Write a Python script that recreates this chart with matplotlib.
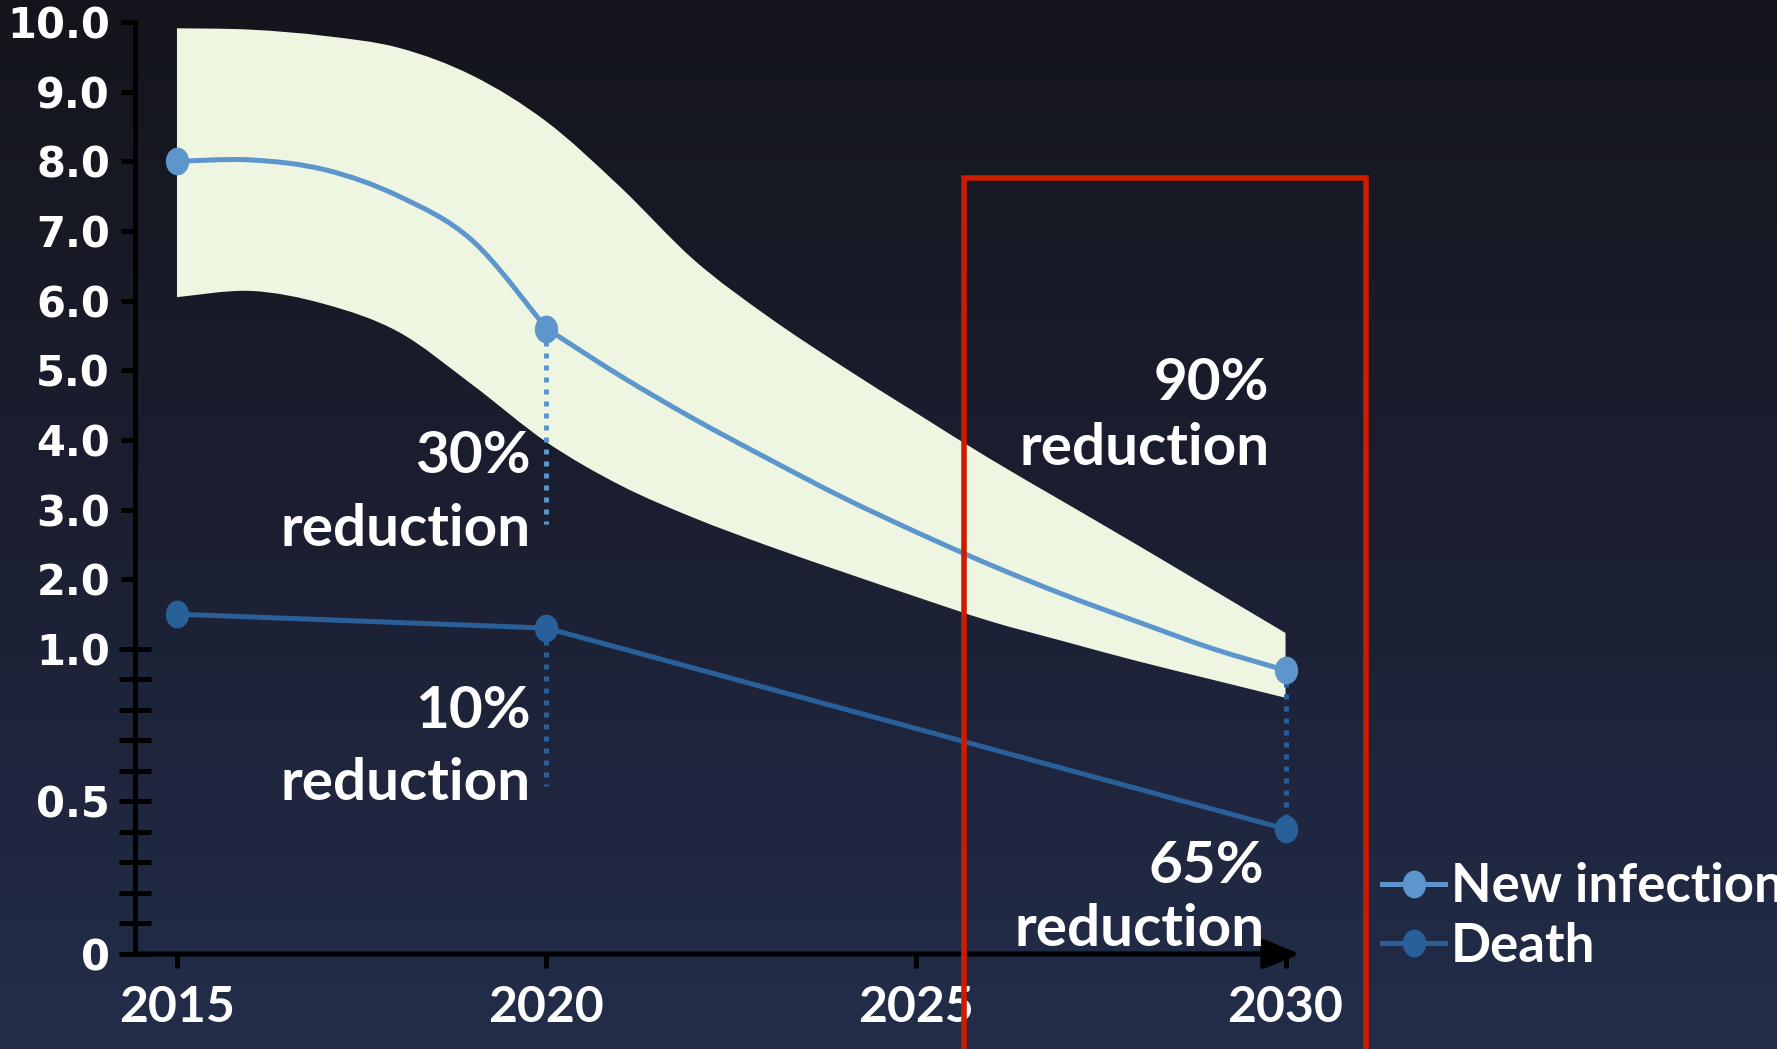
import numpy as np
import matplotlib
matplotlib.use("Agg")
import matplotlib.pyplot as plt
from matplotlib.colors import LinearSegmentedColormap
from matplotlib.lines import Line2D
from matplotlib.patches import Rectangle, PathPatch
from matplotlib.path import Path
from matplotlib.transforms import Affine2D

# yearly values along the new infection projection and its range
years = list(range(2015, 2031))
new_infection = [8.0, 8.02, 7.88, 7.50, 6.86, 5.6, 4.92, 4.30, 3.73, 3.18,
                 2.68, 2.21, 1.78, 1.39, 1.01, 0.93]
band_upper = [9.91, 9.89, 9.80, 9.63, 9.23, 8.57, 7.63, 6.58, 5.77, 5.06,
              4.39, 3.73, 3.11, 2.49, 1.86, 1.23]
band_lower = [6.05, 6.14, 5.95, 5.55, 4.79, 3.97, 3.35, 2.88, 2.48, 2.11,
              1.75, 1.40, 1.11, 0.96, 0.90, 0.84]
infection_marked = [0, 5, 15]  # 2015, 2020, 2030

death_years = [2015, 2020, 2030]
death = [1.5, 1.3, 0.41]

# dotted drop lines: (year, from, to)
drops_infection = [(2020, 5.6, 2.8)]
drops_death = [(2020, 1.3, 0.55), (2030, 0.93, 0.41)]

y_major = [0, 0.5, 1, 2, 3, 4, 5, 6, 7, 8, 9, 10]
y_labels = ["0", "0.5", "1.0", "2.0", "3.0", "4.0", "5.0", "6.0", "7.0",
            "8.0", "9.0", "10.0"]
y_minor = [0.0, 0.1, 0.2, 0.3, 0.4, 0.5, 0.6, 0.7, 0.8, 0.9, 1.0]
x_ticks = [2015, 2020, 2025, 2030]
x_labels = ["2015", "2020", "2025", "2030"]

legend_labels = ["New infection", "Death"]

INFECTION = "#5d96cc"
DEATH = "#2a6099"
BAND = "#eef6e2"
RED = "#cc1c00"
FONT = "Lato"

# 0-1 is stretched, 1-10 is linear
K = 4.378


def fwd(v):
    v = np.asarray(v, dtype=float)
    return np.where(v <= 1, v * K, v - 1 + K)


def inv(t):
    t = np.asarray(t, dtype=float)
    return np.where(t <= K, t / K, t - K + 1)


def smooth_path(xs, ys):
    """Cubic (Catmull-Rom) segments through the points, built in scaled y."""
    pts = np.column_stack([np.asarray(xs, float), fwd(ys)])
    n = len(pts)
    verts = [pts[0]]
    codes = [Path.MOVETO]
    for i in range(n - 1):
        p0 = pts[i - 1] if i > 0 else pts[i]
        p1, p2 = pts[i], pts[i + 1]
        p3 = pts[i + 2] if i + 2 < n else pts[i + 1]
        verts += [p1 + (p2 - p0) / 6, p2 - (p3 - p1) / 6, p2]
        codes += [Path.CURVE4] * 3
    verts = np.array(verts)
    verts[:, 1] = inv(verts[:, 1])
    return verts, codes


# slightly tall ellipse markers
ellipse = Path.unit_circle().transformed(Affine2D().scale(0.84, 1.0))

fig = plt.figure(figsize=(17.77, 10.49), dpi=100)

# dark gradient backdrop
bg = fig.add_axes([0, 0, 1, 1], zorder=-1)
grad = np.linspace(0, 1, 256)[:, None]
cmap = LinearSegmentedColormap.from_list("bg", ["#14151c", "#1b1f31", "#232d4a"])
bg.imshow(grad, aspect="auto", cmap=cmap, extent=[0, 1, 0, 1], origin="upper")
bg.axis("off")

W, H = 1777, 1049
ax = fig.add_axes([135 / W, 95 / H, 1165 / W, 932 / H], zorder=1)
ax.patch.set_alpha(0)
ax.set_yscale("function", functions=(fwd, inv))
ax.set_ylim(0, 10)
ax.set_xlim(2014.432, 2030.196)

# uncertainty band
up_v, up_c = smooth_path(years, band_upper)
lo_v, lo_c = smooth_path(years[::-1], band_lower[::-1])
band_verts = np.vstack([up_v, lo_v, lo_v[-1:]])
band_codes = up_c + [Path.LINETO] + lo_c[1:] + [Path.CLOSEPOLY]
ax.add_patch(PathPatch(Path(band_verts, band_codes), fc=BAND, ec="none",
                       lw=0, zorder=1))

for x, y0, y1 in drops_infection:
    ax.plot([x, x], [y0, y1], color=INFECTION, lw=3.6, ls=(0, (1.0, 1.4)),
            dash_capstyle="butt", zorder=2)
for x, y0, y1 in drops_death:
    ax.plot([x, x], [y0, y1], color=DEATH, lw=3.6, ls=(0, (1.0, 1.4)),
            dash_capstyle="butt", zorder=2)

# new infection curve, smooth on each side of 2020
for a, b in ((0, 6), (5, 16)):
    v, c = smooth_path(years[a:b], new_infection[a:b])
    ax.add_patch(PathPatch(Path(v, c), fc="none", ec=INFECTION, lw=3.6,
                           capstyle="round", zorder=3))
ax.plot([years[i] for i in infection_marked],
        [new_infection[i] for i in infection_marked], ls="none",
        color=INFECTION, marker=ellipse, ms=20, mew=0, zorder=3)

ax.plot(death_years, death, color=DEATH, lw=3.6, marker=ellipse, ms=20,
        mew=0, zorder=3)

# highlighted 2025-2030 window
ax.add_patch(Rectangle((2025.65, -1), 5.44, 8.76, fill=False, ec=RED, lw=4,
                       clip_on=False, zorder=5))


def reduction_label(x, y, lines, dx, dys):
    for text, dy in zip(lines, dys):
        ax.annotate(text, xy=(x, y), xytext=(dx, dy),
                    textcoords="offset pixels", ha="right", va="baseline",
                    color="white", fontsize=42, fontfamily=FONT,
                    fontweight="bold", zorder=6, annotation_clip=False)


reduction_label(2020, 5.6, ["30%", "reduction"], -16, [-144, -217])
reduction_label(2020, 1.3, ["10%", "reduction"], -16, [-100, -172])
reduction_label(2030, 0.93, ["90%", "reduction"], -16, [270, 205])
reduction_label(2030, 0.41, ["65%", "reduction"], -21, [-54, -117])

# axes
for side in ("top", "right", "bottom"):
    ax.spines[side].set_visible(False)
ax.spines["left"].set_linewidth(3.6)
ax.spines["left"].set_color("black")
ax.annotate("", xy=(1, 0), xytext=(0, 0), xycoords="axes fraction",
            arrowprops=dict(arrowstyle="-|>,head_length=1.1,head_width=0.45",
                            lw=3.6, color="black", mutation_scale=20,
                            shrinkA=0, shrinkB=0),
            annotation_clip=False, zorder=4)

ax.yaxis.remove_overlapping_locs = False
ax.set_yticks(y_major)
ax.set_yticklabels(y_labels, fontfamily="DejaVu Sans", fontweight="bold",
                   fontsize=30, color="white")
ax.set_yticks(y_minor, minor=True)
ax.tick_params(axis="y", which="major", direction="out", length=10,
               width=3.6, color="black", pad=8)
ax.tick_params(axis="y", which="minor", direction="inout", length=23,
               width=3.6, color="black")

ax.set_xticks(x_ticks)
ax.set_xticklabels(x_labels, fontfamily=FONT, fontweight="bold", fontsize=36,
                   color="white")
ax.tick_params(axis="x", which="both", direction="out", length=10, width=3.6,
               color="black", pad=12)
ax.xaxis.set_minor_locator(matplotlib.ticker.NullLocator())

handles = [
    Line2D([], [], color=INFECTION, lw=3.6, marker=ellipse, ms=20, mew=0),
    Line2D([], [], color=DEATH, lw=3.6, marker=ellipse, ms=20, mew=0),
]
fig.legend(handles, legend_labels, loc="upper left",
           bbox_to_anchor=(1382 / W, 1 - 862 / H), frameon=False,
           prop=dict(family=FONT, weight="bold", size=38), labelcolor="white",
           handlelength=1.2, handletextpad=0.1, borderpad=0,
           borderaxespad=0, labelspacing=0.2, numpoints=1)

fig.savefig("out.png", dpi=100)
